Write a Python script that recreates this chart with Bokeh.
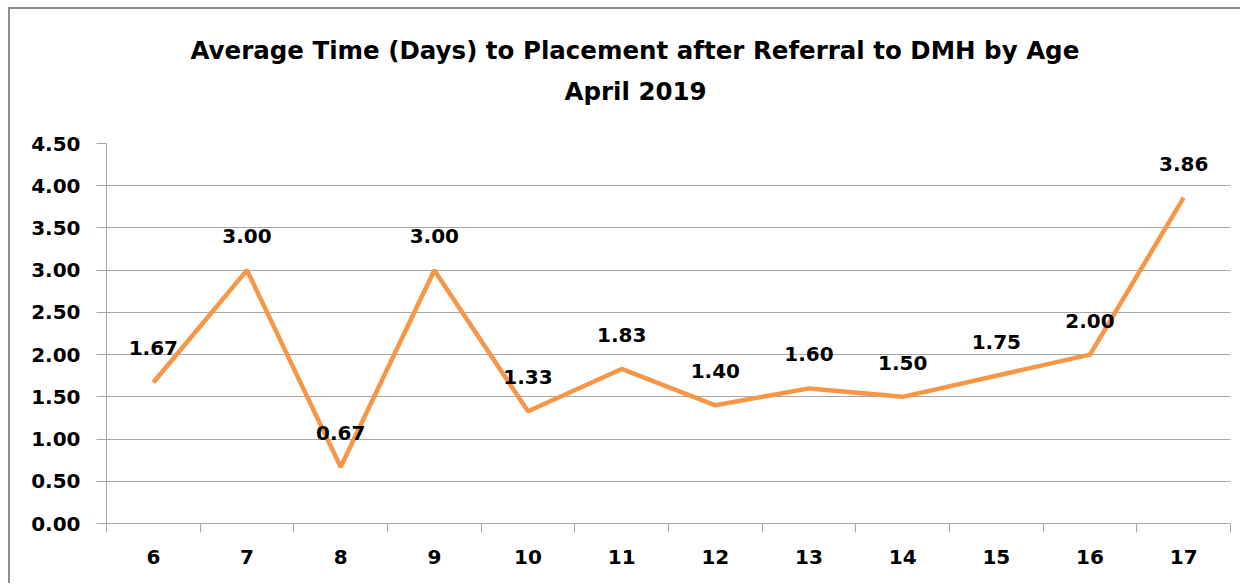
from bokeh.plotting import figure
from bokeh.models import ColumnDataSource, FixedTicker, Range1d, Title, LabelSet, CustomJSTickFormatter
from bokeh.core.properties import value
from bokeh.embed import file_html
from bokeh.resources import INLINE

ages = [6, 7, 8, 9, 10, 11, 12, 13, 14, 15, 16, 17]
avg_days = [1.67, 3.00, 0.67, 3.00, 1.33, 1.83, 1.40, 1.60, 1.50, 1.75, 2.00, 3.86]
y_ticks = [0.0, 0.5, 1.0, 1.5, 2.0, 2.5, 3.0, 3.5, 4.0, 4.5]
title_lines = ["Average Time (Days) to Placement after Referral to DMH by Age", "April 2019"]

FONT = "DejaVu Sans"
GRID = "#a6a6a6"

src = ColumnDataSource(dict(x=ages, y=avg_days, lbl=[f"{v:.2f}" for v in avg_days]))

p = figure(width=1232, height=576, output_backend="svg", toolbar_location=None,
           x_range=Range1d(ages[0] - 0.5, ages[-1] + 0.5), y_range=Range1d(0, 4.5),
           min_border_left=96, min_border_right=12, min_border_top=134, min_border_bottom=62)
p.styles = {"margin-left": "8px", "margin-top": "7px",
            "border-left": "2px solid #8c8c8c", "border-top": "2px solid #8c8c8c"}
p.outline_line_color = None
p.background_fill_color = "white"
p.border_fill_color = "white"

p.line("x", "y", source=src, line_color="#F79646", line_width=4.5)
p.add_layout(LabelSet(x="x", y="y", text="lbl", source=src, y_offset=34,
                      text_align="center", text_baseline="middle",
                      text_font=value(FONT), text_font_style="bold", text_font_size="20px",
                      text_color="black"))

# x axis: labels at category centres, ticks at category boundaries
p.xaxis.ticker = FixedTicker(ticks=ages, minor_ticks=[a - 0.5 for a in ages] + [ages[-1] + 0.5])
p.xaxis.major_tick_out = 0
p.xaxis.major_tick_in = 0
p.xaxis.minor_tick_out = 9
p.xaxis.minor_tick_in = 0
p.xaxis.minor_tick_line_color = GRID
p.xaxis.axis_line_color = GRID
p.xaxis.major_label_standoff = 17
p.xaxis.major_label_text_font = FONT
p.xaxis.major_label_text_font_style = "bold"
p.xaxis.major_label_text_font_size = "20px"
p.xaxis.major_label_text_color = "black"
p.xgrid.grid_line_color = None

p.yaxis.ticker = FixedTicker(ticks=y_ticks, minor_ticks=[])
p.yaxis.formatter = CustomJSTickFormatter(code="return tick.toFixed(2);")
p.yaxis.major_tick_out = 10
p.yaxis.major_tick_in = 0
p.yaxis.major_tick_line_color = GRID
p.yaxis.axis_line_color = GRID
p.yaxis.major_label_standoff = 16
p.yaxis.major_label_text_font = FONT
p.yaxis.major_label_text_font_style = "bold"
p.yaxis.major_label_text_font_size = "20px"
p.yaxis.major_label_text_color = "black"
p.ygrid.grid_line_color = GRID
p.ygrid.grid_line_width = 1

# spacer between plot and title block
p.add_layout(Title(text=" ", standoff=30, text_font_size="1px"), "above")
# two-line title (bottom line first so it sits nearer the plot)
p.add_layout(Title(text=title_lines[1], align="left", offset=458, standoff=10,
                   text_font=FONT, text_font_style="bold", text_font_size="24.5px",
                   text_color="black"), "above")
p.add_layout(Title(text=title_lines[0], align="left", offset=84, standoff=10,
                   text_font=FONT, text_font_style="bold", text_font_size="24.5px",
                   text_color="black"), "above")

open("out.html", "w").write(file_html(p, INLINE))
